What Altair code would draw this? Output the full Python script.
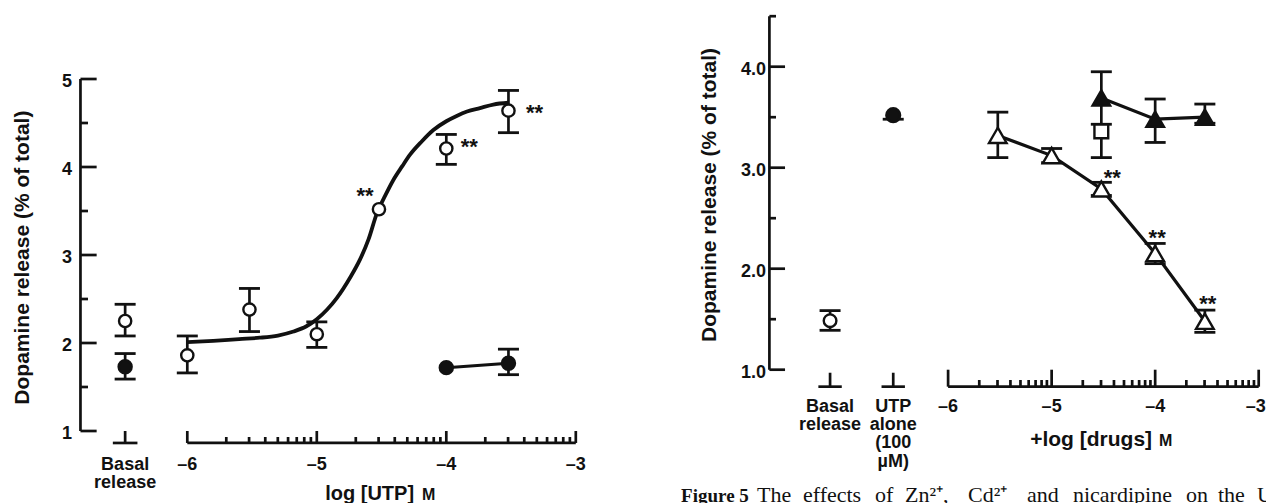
import math
import altair as alt
import pandas as pd

# ---------------- data: left panel (UTP concentration-response) ----------------
L_basal_x = -6.48              # position of the "Basal release" column
L_basal_open = [2.25, 2.44, 2.08]     # y, top, bottom
L_basal_filled = [1.73, 1.88, 1.59]

L_open_x = [-6.0, -5.52, -5.0, -4.52, -4.0, -3.52]
L_open_y = [1.86, 2.38, 2.10, 3.52, 4.21, 4.64]
L_open_top = [2.08, 2.62, 2.24, None, 4.37, 4.87]
L_open_bot = [1.66, 2.13, 1.95, None, 4.03, 4.39]

L_fill_x = [-4.0, -3.52]
L_fill_y = [1.72, 1.77]
L_fill_top = [None, 1.93]
L_fill_bot = [None, 1.64]

L_curve_x = [-6.0, -5.8, -5.6, -5.44, -5.3, -5.18, -5.08, -5.0, -4.92, -4.846, -4.74,
             -4.666, -4.6, -4.537, -4.47, -4.41, -4.34, -4.28, -4.19, -4.10, -4.0,
             -3.92, -3.84, -3.74, -3.637, -3.52]
L_curve_y = [2.01, 2.025, 2.045, 2.06, 2.085, 2.13, 2.19, 2.27, 2.38, 2.51, 2.75,
             2.95, 3.18, 3.47, 3.68, 3.85, 4.01, 4.14, 4.29, 4.42, 4.52,
             4.58, 4.63, 4.67, 4.71, 4.73]

L_star_x = [-4.52, -4.0, -3.52]
L_star_y = [3.52, 4.21, 4.64]
L_star_dx = [-14, 23, 26]
L_star_dy = [-20, -9, -5]

L_yticks = [1, 2, 3, 4, 5]
L_yminor = [1.5, 2.5, 3.5, 4.5]
L_xticks = [-6, -5, -4, -3]
L_xlabels = ["\u20136", "\u20135", "\u20134", "\u20133"]

# ---------------- data: right panel (Zn2+, Cd2+, nicardipine) ----------------
R_basal_x = -7.14
R_utp_x = -6.53
R_basal_open = [1.485, 1.585, 1.39]
R_utp_filled = [3.52, None, 3.48]

R_otri_x = [-5.52, -5.0, -4.52, -4.0, -3.52]
R_otri_y = [3.32, 3.12, 2.79, 2.15, 1.48]
R_otri_top = [3.55, 3.19, 2.855, 2.25, 1.59]
R_otri_bot = [3.10, 3.05, 2.725, 2.05, 1.37]

R_ftri_x = [-4.52, -4.0, -3.52]
R_ftri_y = [3.69, 3.48, 3.50]
R_ftri_top = [3.95, 3.68, 3.63]
R_ftri_bot = [3.43, 3.25, 3.44]

R_sq_x = [-4.52]
R_sq_y = [3.36]
R_sq_top = [None]
R_sq_bot = [3.10]

R_star_x = [-4.52, -4.0, -3.52]
R_star_y = [2.79, 2.15, 1.48]
R_star_dx = [11, 2, 3]
R_star_dy = [-18, -23, -24]

R_yticks = [1.0, 2.0, 3.0, 4.0]
R_ylabels = ["1.0", "2.0", "3.0", "4.0"]
R_yminor = [1.5, 2.5, 3.5, 4.5]
R_xticks = [-6, -5, -4, -3]
R_xlabels = ["\u20136", "\u20135", "\u20134", "\u20133"]
R_xlabel_dx = [0, 0, 0, -3]

# caption words (figure legend below the right panel, justified line)
CAP_words = ["The", "effects", "of", "Zn\u00b2\u207a,", "Cd\u00b2\u207a", "and",
             "nicardipine", "on", "the", "U"]
CAP_pos = [-7.846, -7.402, -6.706, -6.416, -5.808, -5.238, -4.794, -3.702, -3.393, -3.016]

# ---------------- scales (pixel ranges of the two panels) ----------------
W, H = 1258, 495
LX = alt.Scale(domain=[-6, -3], range=[179.3, 567.8], nice=False, zero=False)
LY = alt.Scale(domain=[1, 5], range=[423, 71], nice=False, zero=False)
RX = alt.Scale(domain=[-6, -3], range=[940.1, 1250.7], nice=False, zero=False)
RY = alt.Scale(domain=[1, 4], range=[361.7, 58.7], nice=False, zero=False)

FONT = "Liberation Sans"
BLACK = "#111111"


def xq(s, f="x"):
    return alt.X(f"{f}:Q", scale=s, axis=None)


def yq(s, f="y"):
    return alt.Y(f"{f}:Q", scale=s, axis=None)


layers = []


def segs(rows, sx, sy, sw=2.7):
    df = pd.DataFrame(rows, columns=["x", "y", "x2", "y2"])
    return alt.Chart(df).mark_rule(color=BLACK, strokeWidth=sw, opacity=1).encode(
        x=xq(sx), y=yq(sy), x2="x2:Q", y2="y2:Q")


def texts(xs, ys, labels, sx, sy, **kw):
    df = pd.DataFrame({"x": xs, "y": ys, "t": labels})
    return alt.Chart(df).mark_text(color=BLACK, **kw).encode(
        x=xq(sx), y=yq(sy), text="t:N")


def errbars(xs, ys, tops, bots, sx, sy):
    out = []
    rows = []
    for x, y, t, b in zip(xs, ys, tops, bots):
        hi = t if t is not None else y
        lo = b if b is not None else y
        if hi != lo:
            rows.append((x, lo, x, hi))
    if rows:
        out.append(segs(rows, sx, sy, 2.7))
    caps = [(x, v) for x, t, b in zip(xs, tops, bots) for v in (t, b) if v is not None]
    if caps:
        df = pd.DataFrame(caps, columns=["x", "y"])
        out.append(alt.Chart(df).mark_tick(color=BLACK, orient="horizontal", size=21,
                                           thickness=2.8, opacity=1).encode(x=xq(sx), y=yq(sy)))
    return out


def points(xs, ys, sx, sy, shape, filled, size, sw=2.4):
    df = pd.DataFrame({"x": xs, "y": ys})
    return alt.Chart(df).mark_point(shape=shape, filled=True, size=size,
                                    fill=BLACK if filled else "white",
                                    stroke=BLACK, strokeWidth=sw, opacity=1).encode(
        x=xq(sx), y=yq(sy))


def line(xs, ys, sx, sy, sw=3, interp="linear"):
    df = pd.DataFrame({"x": xs, "y": ys})
    return alt.Chart(df).mark_line(color=BLACK, strokeWidth=sw, interpolate=interp).encode(
        x=xq(sx), y=yq(sy))


def stars(xs, ys, dxs, dys, sx, sy):
    out = []
    df = pd.DataFrame({"x": xs, "y": ys})
    for i in range(len(xs)):
        out.append(alt.Chart(df.iloc[[i]]).mark_text(
            text="**", font=FONT, fontWeight="bold", fontSize=22, color=BLACK,
            dx=dxs[i], dy=dys[i] + 7).encode(x=xq(sx), y=yq(sy)))
    return out


# ======================= LEFT PANEL =======================
L_YAX, L_YMAJ, L_YMIN = -6.825, -6.70, -6.767
L_XAXY, L_XMIN = 0.864, 0.932
rows = [(L_YAX, 1, L_YAX, 5)]
rows += [(L_YAX, v, L_YMAJ, v) for v in L_yticks]
rows += [(L_YAX, v, L_YMIN, v) for v in L_yminor]
rows += [(-6, L_XAXY, -3, L_XAXY)]
rows += [(v, L_XAXY, v, 1.0) for v in L_xticks]
rows += [(d + math.log10(k), L_XAXY, d + math.log10(k), L_XMIN) for d in (-6, -5, -4) for k in range(2, 10)]
rows += [(L_basal_x, L_XAXY, L_basal_x, 1.0),
         (L_basal_x - 0.095, L_XAXY, L_basal_x + 0.095, L_XAXY)]
layers.append(segs(rows, LX, LY))

layers.append(line(L_curve_x, L_curve_y, LX, LY, 3.8, "monotone"))
layers.append(line(L_fill_x, L_fill_y, LX, LY, 3))
layers += errbars([L_basal_x] + L_open_x, [L_basal_open[0]] + L_open_y,
                  [L_basal_open[1]] + L_open_top, [L_basal_open[2]] + L_open_bot, LX, LY)
layers += errbars([L_basal_x] + L_fill_x, [L_basal_filled[0]] + L_fill_y,
                  [L_basal_filled[1]] + L_fill_top, [L_basal_filled[2]] + L_fill_bot, LX, LY)
layers.append(points([L_basal_x] + L_open_x, [L_basal_open[0]] + L_open_y, LX, LY, "circle", False, 150))
layers.append(points([L_basal_x] + L_fill_x, [L_basal_filled[0]] + L_fill_y, LX, LY, "circle", True, 170))
layers += stars(L_star_x, L_star_y, L_star_dx, L_star_dy, LX, LY)

layers.append(texts([-6.89] * 5, L_yticks, [str(v) for v in L_yticks], LX, LY,
                    font=FONT, fontWeight="bold", fontSize=18, align="right", baseline="middle", dy=3))
layers.append(texts(L_xticks, [0.614] * 4, L_xlabels, LX, LY,
                    font=FONT, fontWeight="bold", fontSize=18, align="center", baseline="middle"))
layers.append(texts([L_basal_x, L_basal_x], [0.614, 0.41], ["Basal", "release"], LX, LY,
                    font=FONT, fontWeight="bold", fontSize=18, align="center", baseline="middle"))
layers.append(texts([-4.249], [0.285], ["log [UTP]"], LX, LY,
                    font=FONT, fontWeight="bold", fontSize=20, align="right", baseline="middle"))
layers.append(texts([-4.187], [0.285], ["M"], LX, LY,
                    font=FONT, fontWeight="bold", fontSize=16, align="left", baseline="middle", dy=1))
layers.append(texts([-7.269], [2.97], ["Dopamine release (% of total)"], LX, LY,
                    font=FONT, fontWeight="bold", fontSize=21, align="center", baseline="middle",
                    angle=270))

# ======================= RIGHT PANEL =======================
R_YAX, R_YMAJ, R_YMIN = -7.726, -7.575, -7.662
R_XAXY, R_XMIN, R_STEM = 0.832, 0.898, 0.97
rows = [(R_YAX, 1, R_YAX, 4.5)]
rows += [(R_YAX, v, R_YMAJ, v) for v in R_yticks]
rows += [(R_YAX, v, R_YMIN, v) for v in R_yminor]
rows += [(-6, R_XAXY, -3, R_XAXY)]
rows += [(v, R_XAXY, v, 1.0) for v in R_xticks]
rows += [(d + math.log10(k), R_XAXY, d + math.log10(k), R_XMIN) for d in (-6, -5, -4) for k in range(2, 10)]
for bx in (R_basal_x, R_utp_x):
    rows += [(bx, R_XAXY, bx, R_STEM), (bx - 0.113, R_XAXY, bx + 0.113, R_XAXY)]
layers.append(segs(rows, RX, RY))

layers.append(line(R_otri_x, R_otri_y, RX, RY, 3.2))
layers.append(line(R_ftri_x, R_ftri_y, RX, RY, 3.2))
layers += errbars(R_otri_x, R_otri_y, R_otri_top, R_otri_bot, RX, RY)
layers += errbars(R_ftri_x, R_ftri_y, R_ftri_top, R_ftri_bot, RX, RY)
layers += errbars(R_sq_x, R_sq_y, R_sq_top, R_sq_bot, RX, RY)
layers += errbars([R_basal_x, R_utp_x], [R_basal_open[0], R_utp_filled[0]],
                  [R_basal_open[1], R_utp_filled[1]], [R_basal_open[2], R_utp_filled[2]], RX, RY)
layers.append(points([R_basal_x], [R_basal_open[0]], RX, RY, "circle", False, 160))
layers.append(points([R_utp_x], [R_utp_filled[0]], RX, RY, "circle", True, 190))
layers.append(points(R_otri_x, R_otri_y, RX, RY, "triangle-up", False, 310))
layers.append(points(R_ftri_x, R_ftri_y, RX, RY, "triangle-up", True, 310))
layers.append(points(R_sq_x, R_sq_y, RX, RY, "square", False, 190))
layers += stars(R_star_x, R_star_y, R_star_dx, R_star_dy, RX, RY)

layers.append(texts([-7.759] * 4, R_yticks, R_ylabels, RX, RY,
                    font=FONT, fontWeight="bold", fontSize=18, align="right", baseline="middle", dy=3))
for xv, lab, ddx in zip(R_xticks, R_xlabels, R_xlabel_dx):
    layers.append(texts([xv], [0.631], [lab], RX, RY, font=FONT, fontWeight="bold", fontSize=18,
                        align="center", baseline="middle", dx=ddx))
layers.append(texts([R_basal_x, R_basal_x, R_utp_x, R_utp_x, R_utp_x, R_utp_x],
                    [0.631, 0.452, 0.631, 0.452, 0.274, 0.087],
                    ["Basal", "release", "UTP", "alone", "(100", "\u00b5M)"], RX, RY,
                    font=FONT, fontWeight="bold", fontSize=18, align="center", baseline="middle"))
layers.append(texts([-4.030], [0.30], ["+log [drugs]"], RX, RY,
                    font=FONT, fontWeight="bold", fontSize=21, align="right", baseline="middle"))
layers.append(texts([-3.962], [0.30], ["M"], RX, RY,
                    font=FONT, fontWeight="bold", fontSize=16, align="left", baseline="middle", dy=1))
layers.append(texts([-8.30], [2.73], ["Dopamine release (% of total)"], RX, RY,
                    font=FONT, fontWeight="bold", fontSize=21, align="center", baseline="middle",
                    angle=270))
layers.append(texts([-8.579], [-0.31], ["Figure 5"], RX, RY,
                    font="Liberation Serif", fontWeight="bold", fontSize=19, align="left",
                    baseline="alphabetic"))
layers.append(texts(CAP_pos, [-0.31] * len(CAP_words), CAP_words, RX, RY,
                    font="Liberation Serif", fontSize=22, align="left", baseline="alphabetic"))

chart = alt.layer(*layers).resolve_scale(x="independent", y="independent").properties(
    width=W, height=H, padding=0, autosize=alt.AutoSizeParams(type="none")
).configure_view(stroke=None)

chart.save("out.html", embed_options={"renderer": "svg", "actions": False})
